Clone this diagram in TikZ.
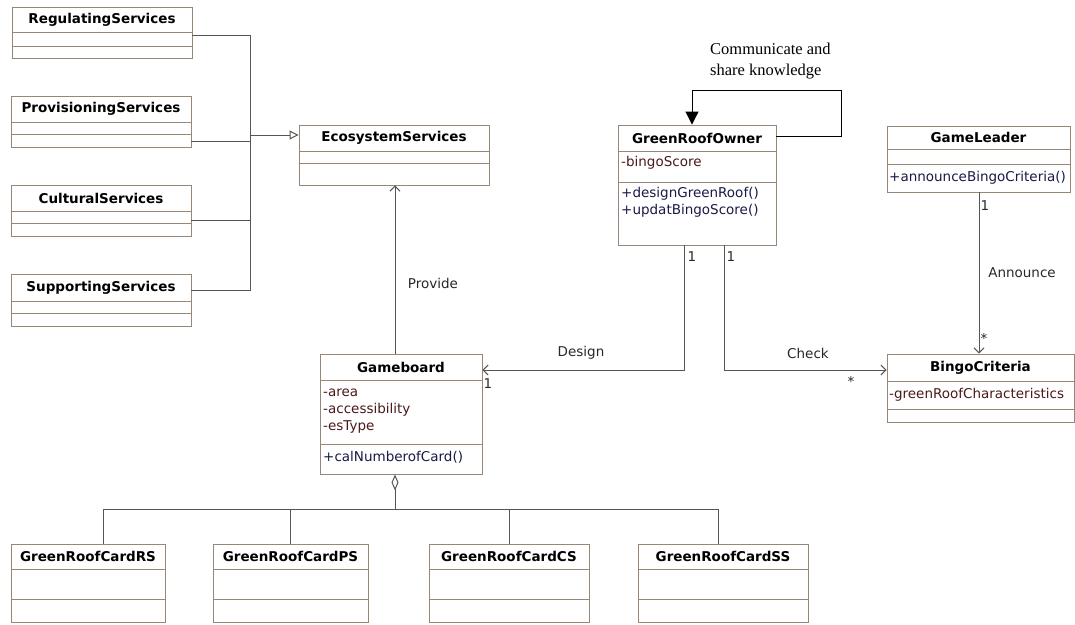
\documentclass[tikz,border=0pt]{standalone}
\usepackage{fontspec}
\setmainfont{DejaVu Sans}
\newfontfamily\notefont{Liberation Serif}
\usetikzlibrary{arrows.meta,fit}

\definecolor{boxcol}{RGB}{150,135,120}
\definecolor{linecol}{RGB}{85,85,85}
\definecolor{attrcol}{RGB}{75,25,25}
\definecolor{opcol}{RGB}{25,25,70}
\definecolor{labcol}{RGB}{40,40,40}

\tikzset{
  classbox/.style={draw=boxcol, line width=0.9pt, inner sep=0pt},
  sepline/.style={draw=boxcol, line width=0.9pt},
  cname/.style={font=\fontsize{13.5}{16}\selectfont\bfseries, inner sep=0pt},
  attr/.style={font=\fontsize{13.5}{16}\selectfont, text=attrcol, anchor=west,
    inner sep=0pt, text height=10pt, text depth=3pt},
  oper/.style={attr, text=opcol},
  conn/.style={draw=linecol, line width=1pt},
  assoc/.style={conn, -{Straight Barb[length=5pt,width=10pt]}},
  gener/.style={conn, -{Triangle[open,length=9pt,width=9pt]}},
  aggr/.style={conn, {Diamond[open,length=16pt,width=7pt]}-},
  lbl/.style={font=\fontsize{13.5}{16}\selectfont, text=labcol, inner sep=0pt},
}

% id, left, top, right, sep1, sep2, bottom, name
\newcommand{\umlclass}[8]{%
  \node[classbox, fit={(#2,#3) (#4,#7)}] (#1) {};
  \draw[sepline] (#2,#5) -- (#4,#5) (#2,#6) -- (#4,#6);
  \node[cname] (#1-name) at ({(#2+#4)/2},{(#3+#5)/2}) {#8};
}

\begin{document}
\begin{tikzpicture}[x=1pt, y=-1pt]
  \useasboundingbox (0,0) rectangle (1075,624);

  \umlclass{reg}{12}{7}{192}{32}{46}{58}{RegulatingServices}
  \umlclass{prov}{11}{96}{191}{122}{134}{147}{ProvisioningServices}
  \umlclass{cult}{11}{185}{191}{211}{223}{236}{CulturalServices}
  \umlclass{supp}{11}{274}{191}{301}{313}{326}{SupportingServices}
  \umlclass{eco}{299}{125}{489}{151}{163}{185}{EcosystemServices}
  \umlclass{owner}{618}{125}{776}{151}{182}{245}{GreenRoofOwner}
  \umlclass{leader}{887}{126}{1070}{149}{164}{192}{GameLeader}
  \umlclass{board}{320}{354}{482}{380}{444}{474}{Gameboard}
  \umlclass{bingo}{887}{354}{1074}{381}{409}{422}{BingoCriteria}
  \umlclass{cardrs}{11}{544}{165}{569}{599}{622}{GreenRoofCardRS}
  \umlclass{cardps}{213}{544}{368}{569}{599}{622}{GreenRoofCardPS}
  \umlclass{cardcs}{429}{544}{589}{569}{599}{622}{GreenRoofCardCS}
  \umlclass{cardss}{638}{544}{808}{569}{599}{622}{GreenRoofCardSS}

  \node[attr] (owner-a) at (621,163) {-bingoScore};
  \node[oper] (owner-o1) at (621,194) {+designGreenRoof()};
  \node[oper] (owner-o2) at (621,211) {+updatBingoScore()};
  \node[attr] (board-a1) at (323,393) {-area};
  \node[attr] (board-a2) at (323,410) {-accessibility};
  \node[attr] (board-a3) at (323,427) {-esType};
  \node[oper] (board-o) at (323,458) {+calNumberofCard()};
  \node[oper] (leader-o) at (889,178) {+announceBingoCriteria()};
  \node[attr] (bingo-a) at (889,395) {-greenRoofCharacteristics};

  \coordinate (hub) at (250,135);
  \draw[conn] (reg.east |- 0,35) -| (hub);
  \draw[conn] (prov.east |- 0,141) -| (hub);
  \draw[conn] (cult.east |- 0,220) -| (hub);
  \draw[conn] (supp.east |- 0,290) -| (hub);
  \draw[gener] (hub) -- (eco.west |- hub);

  \draw[conn, draw=black, -{Triangle[length=13pt,width=13pt]}]
    (owner.east |- 0,136) -| (841,90) -| (owner.north -| 692,0);
  \node[font=\notefont\fontsize{16.5}{21}\selectfont, align=left, anchor=north west,
    inner sep=0pt] (note) at (710,43) {Communicate and\\share knowledge};

  \draw[assoc] (board.north -| 395,0) -- (eco.south -| 395,0);
  \draw[assoc] (owner.south -| 684,0) |- (board.east |- 0,370);
  \draw[assoc] (owner.south -| 724,0) |- (bingo.west |- 0,370);
  \draw[assoc] (leader.south -| 979,0) -- (bingo.north -| 979,0);

  \node[lbl] (provide) at (433,283) {Provide};
  \node[lbl] (design) at (581,353) {Design};
  \node[lbl] (check) at (808,353) {Check};
  \node[lbl] (announce) at (1022,273) {Announce};
  \node[lbl] (m1) at (692,257) {1};
  \node[lbl] (m2) at (731,257) {1};
  \node[lbl] (m3) at (488,384) {1};
  \node[lbl] (m4) at (851,381) {*};
  \node[lbl] (m5) at (985,206) {1};
  \node[lbl] (m6) at (984,338) {*};

  \coordinate (bus) at (395,509);
  \draw[aggr] (board.south -| bus) -- (bus);
  \draw[conn] (cardrs.north -| 103,0) |- (bus);
  \draw[conn] (cardps.north -| 290,0) |- (bus);
  \draw[conn] (cardcs.north -| 509,0) |- (bus);
  \draw[conn] (cardss.north -| 718,0) |- (bus);
\end{tikzpicture}
\end{document}
